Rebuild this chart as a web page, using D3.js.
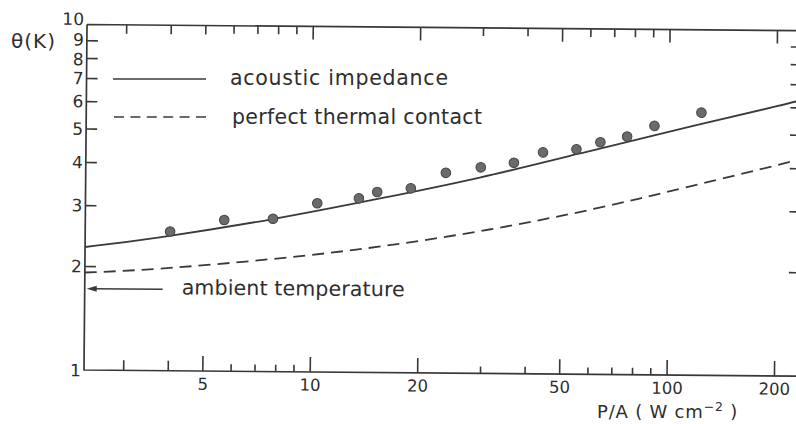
<!DOCTYPE html>
<meta charset="utf-8">
<style>
body { margin: 0; background: #fff; }
text { font-family: "DejaVu Sans", sans-serif; fill: #2e2e2e; }
.tick line { stroke: #383838; stroke-width: 1.6px; }
.frame { stroke: #383838; stroke-width: 1.7px; fill: none; }
</style>
<svg width="796" height="424"></svg>
<script src="https://d3js.org/d3.v7.min.js"></script>
<script>

// P/A (W cm^-2) vs theta (K)
var dotsP     = [4.03, 5.71, 7.82, 10.4, 13.6, 15.3, 19.0, 23.8, 29.8, 36.9, 44.5, 55.2, 64.4, 76.5, 91.2, 123.4];
var dotsTheta = [2.53, 2.74, 2.77, 3.08, 3.19, 3.33, 3.42, 3.80, 3.95, 4.08, 4.38, 4.48, 4.70, 4.89, 5.26, 5.76];

var acousticP     = [2.33, 3.54, 7.82, 15.6, 29.6, 56.4, 107.4, 222, 232];
var acousticTheta = [2.27, 2.40, 2.75, 3.19, 3.67, 4.36, 5.16, 6.19, 6.28];

var contactP     = [2.33, 3.55, 7.94, 15.6, 31.7, 63.0, 112.5, 223, 232];
var contactTheta = [1.915, 1.955, 2.115, 2.305, 2.60, 3.01, 3.50, 4.18, 4.25];

var ambientTheta = 1.72;

var xMajor = [5, 10, 20, 50, 100, 200];
var xMid   = [3, 4];
var xMinor = [6, 7, 8, 9, 30, 40, 60, 70, 80, 90];
var yTicks = [1, 2, 3, 4, 5, 6, 7, 8, 9, 10];

var svg = d3.select("svg");

var x = d3.scaleLog().domain([2.33, 232]).range([84, 797]);
var y = d3.scaleLog().domain([1, 10]).range([370, 24.5]);

// the scan is tilted a little, so the whole plot is too
var plot = svg.append("g").attr("transform", "rotate(0.5, 84, 370)");

function noLabel() { return ""; }

function ticks(axis, pos) {
  var g = plot.append("g").attr("transform", pos).call(axis);
  g.select(".domain").remove();
  return g;
}

// bottom
var bx = ticks(d3.axisBottom(x).tickValues(xMajor).tickSizeInner(-15).tickSizeOuter(0)
    .tickPadding(7).tickFormat(d3.format("d")), "translate(0,370)");
bx.selectAll("text").attr("font-size", "16.5px").attr("fill", "#2e2e2e");
ticks(d3.axisBottom(x).tickValues(xMid).tickSize(-10).tickFormat(noLabel), "translate(0,370)");
ticks(d3.axisBottom(x).tickValues(xMinor).tickSize(-7).tickFormat(noLabel), "translate(0,370)");

// top
ticks(d3.axisTop(x).tickValues(xMajor.filter(function(d) { return d != 5; })).tickSize(-13).tickFormat(noLabel), "translate(0,24.5)");
ticks(d3.axisTop(x).tickValues([3, 4, 5]).tickSize(-9).tickFormat(noLabel), "translate(0,24.5)");
ticks(d3.axisTop(x).tickValues(xMinor).tickSize(-8).tickFormat(noLabel), "translate(0,24.5)");

// left
var ly = ticks(d3.axisLeft(y).tickValues(yTicks).tickSize(-11).tickPadding(3)
    .tickFormat(d3.format("d")), "translate(84,0)");
ly.selectAll("text").attr("font-size", "17px").attr("fill", "#2e2e2e")
    .attr("dy", function(d) { return d == 10 ? "0em" : d == 9 ? "0.28em" : d == 8 ? "0.4em" : "0.34em"; });
ly.selectAll(".tick").filter(function(d) { return d == 1 || d == 10; }).select("line").remove();

// right
ticks(d3.axisRight(y).tickValues(yTicks.slice(1, 9)).tickSize(-9).tickFormat(noLabel), "translate(797,0)");

// frame
plot.append("path").attr("class", "frame")
    .attr("d", "M" + x.range()[0] + "," + y.range()[1] + "V" + y.range()[0] + "H" + x.range()[1]
      + "M" + x.range()[0] + "," + y.range()[1] + "H" + x.range()[1] + "V" + y.range()[0]);

var line = d3.line()
    .x(function(d) { return x(d[0]); })
    .y(function(d) { return y(d[1]); })
    .curve(d3.curveBasis);

plot.append("path")
    .datum(d3.zip(acousticP, acousticTheta))
    .attr("fill", "none").attr("stroke", "#3a3a3a").attr("stroke-width", 1.8)
    .attr("d", line);

plot.append("path")
    .datum(d3.zip(contactP, contactTheta))
    .attr("fill", "none").attr("stroke", "#3a3a3a").attr("stroke-width", 1.8)
    .attr("stroke-dasharray", "12,7")
    .attr("d", line);

plot.append("g").selectAll("circle")
    .data(d3.zip(dotsP, dotsTheta))
    .enter().append("circle")
      .attr("cx", function(d) { return x(d[0]); })
      .attr("cy", function(d) { return y(d[1]); })
      .attr("r", 4.8)
      .attr("fill", "#6b6b6b")
      .attr("stroke", "#454545")
      .attr("stroke-width", 1);

// ambient temperature arrow
var ya = y(ambientTheta);
plot.append("line")
    .attr("x1", x(2.33) + 6).attr("x2", 162)
    .attr("y1", ya).attr("y2", ya)
    .attr("stroke", "#3a3a3a").attr("stroke-width", 1.6);
plot.append("path")
    .attr("d", "M" + (x(2.33) + 2) + "," + ya + "l10,-3v6z")
    .attr("fill", "#3a3a3a");
plot.append("text")
    .attr("x", 181).attr("y", ya + 5)
    .attr("font-size", "20.5px")
    .attr("textLength", 223).attr("lengthAdjust", "spacing")
    .text("ambient temperature");

// legend
var legend = svg.append("g");
legend.append("line").attr("x1", 113).attr("x2", 206).attr("y1", 79).attr("y2", 79)
    .attr("stroke", "#3a3a3a").attr("stroke-width", 1.6);
legend.append("line").attr("x1", 114).attr("x2", 206).attr("y1", 117).attr("y2", 117)
    .attr("stroke", "#3a3a3a").attr("stroke-width", 1.6).attr("stroke-dasharray", "10,6.4");
legend.append("text").attr("x", 230).attr("y", 85).attr("font-size", "20.5px")
    .attr("textLength", 218).attr("lengthAdjust", "spacing").text("acoustic impedance");
legend.append("text").attr("x", 232).attr("y", 124).attr("font-size", "20.5px")
    .attr("textLength", 250).attr("lengthAdjust", "spacing").text("perfect thermal contact");

// axis titles
svg.append("text").attr("x", 11).attr("y", 48).attr("font-size", "20px")
    .attr("textLength", 44).attr("lengthAdjust", "spacing").text("θ(K)");

var xt = svg.append("text").attr("x", 597).attr("y", 418).attr("font-size", "18px")
    .attr("letter-spacing", "0.8px");
xt.append("tspan").text("P/A ( W cm");
xt.append("tspan").attr("font-size", "12.5px").attr("dy", -7).text("−2");
xt.append("tspan").attr("dy", 7).text(" )");

</script>
